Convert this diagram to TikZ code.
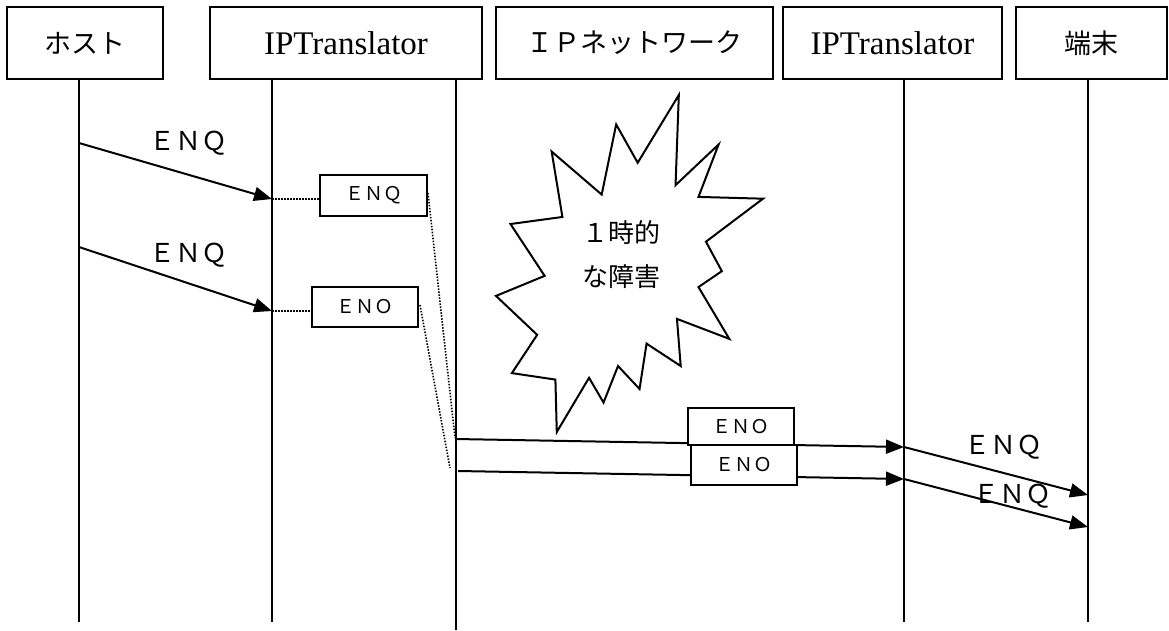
\documentclass[tikz,border=0pt]{standalone}
\usepackage{fontspec}
\setmainfont{Liberation Serif}
\newfontfamily\jp{Noto Sans CJK JP}
\usetikzlibrary{arrows.meta}
\begin{document}
\begin{tikzpicture}[x=1pt,y=-1pt,
  hdr/.style={draw,line width=2pt,minimum height=72pt,inner sep=0pt},
  jph/.style={font=\jp\fontsize{27}{27}\selectfont},
  serh/.style={font=\fontsize{33}{33}\selectfont},
  life/.style={line width=2pt},
  msg/.style={line width=2pt,-{Triangle[length=18pt,width=14pt]}},
  dots/.style={line width=1.6pt,dash pattern=on 1.5pt off 1.5pt},
  pkt/.style={draw,line width=2pt,inner sep=0pt,fill=white,minimum width=106pt,font=\jp\fontsize{19}{19}\selectfont},
  lbl/.style={font=\jp\fontsize{26}{26}\selectfont},
  burst/.style={draw,line width=2pt,fill=white,line join=miter}]
\useasboundingbox (0,0) rectangle (1169,630);

% header boxes
\node[hdr,jph,minimum width=156pt] (b1) at (85,43) {ホスト};
\node[hdr,serh,minimum width=272pt] (b2) at (346,43) {IPTranslator};
\node[hdr,jph,minimum width=277pt] (b3) at (634.5,43) {ＩＰネットワーク};
\node[hdr,serh,minimum width=219pt] (b4) at (892.5,43) {IPTranslator};
\node[hdr,jph,minimum width=151pt] (b5) at (1091.5,43) {端末};

% lifelines
\coordinate (L1) at (79,622);
\coordinate (L2) at (272,622);
\coordinate (L3) at (456,630);
\coordinate (L4) at (904,622);
\coordinate (L5) at (1088,622);
\draw[life] (b1.south -| L1) -- (L1);
\draw[life] (b2.south -| L2) -- (L2);
\draw[life] (b2.south -| L3) -- (L3);
\draw[life] (b4.south -| L4) -- (L4);
\draw[life] (b5.south -| L5) -- (L5);

% host -> translator
\coordinate (a1s) at (79,143);
\coordinate (a1e) at (272,199);
\coordinate (a2s) at (79,247);
\coordinate (a2e) at (272,311);
\draw[msg] (a1s) -- (a1e);
\draw[msg] (a2s) -- (a2e);
\node[lbl] (t1) at (188,143) {ＥＮＱ};
\node[lbl] (t2) at (188,255) {ＥＮＱ};

% buffered packets
\node[pkt,minimum height=41pt,minimum width=107pt] (p1) at (373.5,195.5) {ＥＮＱ};
\node[pkt,minimum height=40pt] (p2) at (365,307) {ＥＮＯ};
\draw[dots] (a1e) -- (p1.west |- a1e);
\draw[dots] (a2e) -- (p2.west |- a2e);
\coordinate (d1) at (455,438);
\coordinate (d2) at (450,468);
\draw[dots] (428,193) -- (d1);
\draw[dots] (420,305) -- (d2);

% network -> translator
\coordinate (n1s) at (456,439);
\coordinate (n1e) at (904,447);
\coordinate (n2s) at (458,471);
\coordinate (n2e) at (904,479);
\draw[msg] (n1s) -- (n1e);
\draw[msg] (n2s) -- (n2e);
\node[pkt,minimum height=37pt] (q1) at (741,426.5) {ＥＮＯ};
\node[pkt,minimum height=40pt] (q2) at (744,465) {ＥＮＯ};

% translator -> terminal
\coordinate (r1e) at (1088,495);
\coordinate (r2e) at (1088,527);
\draw[msg] (n1e) -- (r1e);
\draw[msg] (n2e) -- (r2e);
\node[lbl] (t3) at (1003,447) {ＥＮＱ};
\node[lbl] (t4) at (1012,496) {ＥＮＱ};

% explosion
\begin{scope}[shift={(496,95)},xscale=1.2361,yscale=1.5602]
\draw[burst] (114.62,43.42) -- (147.90,0) -- (145.25,57.77) -- (180.07,31.72) -- (163.80,65.32)
  -- (216,66.45) -- (169.85,94.02) -- (182.70,112.90) -- (163.80,123.10) -- (188.77,156.32)
  -- (146.40,143.50) -- (149.42,173.70) -- (121.80,159.35) -- (116.12,188.42) -- (98.72,173.70)
  -- (87.00,197.12) -- (75.27,181.25) -- (49.17,216) -- (48.05,182.40) -- (12.85,178.25)
  -- (33.30,153.70) -- (0,128.77) -- (39.35,115.92) -- (11.72,82.70) -- (53.72,78.17)
  -- (45.02,36.25) -- (85.50,63.82) -- (97.22,18.87) -- cycle;
\end{scope}
\node[lbl,align=center,font=\jp\fontsize{26}{44}\selectfont] (fail) at (621,255) {１時的\\な障害};
\end{tikzpicture}
\end{document}
